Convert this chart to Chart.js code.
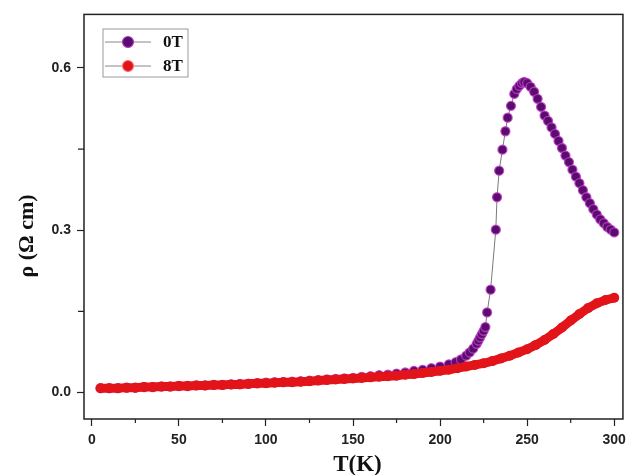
<!DOCTYPE html>
<html>
<head>
<meta charset="utf-8">
<script src="https://cdn.jsdelivr.net/npm/chart.js@4.4.1/dist/chart.umd.min.js"></script>
<style>
  html, body { margin: 0; padding: 0; background: #fff; }
  canvas { display: block; }
</style>
</head>
<body>
<canvas id="myChart" width="632" height="475"></canvas>
<script>
// temperature (K) and resistivity (Ohm cm)
const temp0T = [5, 10, 15, 20, 25, 30, 35, 40, 45, 50, 55, 60, 65, 70, 75, 80, 85, 90, 95, 100,
  105, 110, 115, 120, 125, 130, 135, 140, 145, 150, 155, 160, 165, 170, 175, 180, 185, 190, 195, 200,
  205, 209, 212, 215, 217, 219, 221, 222, 223, 224, 225, 226, 227, 229, 232, 232.7, 233.9, 235.8, 237.5, 238.8,
  240.7, 242.6, 244, 245.5, 247, 248.3, 250, 252, 254, 256, 258, 260, 262, 264, 266, 268,
  270, 272, 274, 276, 278, 280, 282, 284, 286, 288, 290, 292, 294, 296, 298, 300];
const rho0T = [0.008, 0.008, 0.008, 0.009, 0.009, 0.010, 0.010, 0.011, 0.011, 0.012, 0.012, 0.013, 0.013, 0.014, 0.014, 0.015, 0.016, 0.016, 0.017, 0.018,
  0.019, 0.019, 0.020, 0.021, 0.022, 0.023, 0.024, 0.025, 0.026, 0.027, 0.029, 0.030, 0.032, 0.033, 0.035, 0.037, 0.040, 0.042, 0.045, 0.048,
  0.052, 0.056, 0.061, 0.068, 0.074, 0.081, 0.090, 0.096, 0.102, 0.108, 0.114, 0.121, 0.148, 0.190, 0.301, 0.361, 0.410, 0.449, 0.483, 0.508,
  0.530, 0.552, 0.561, 0.567, 0.572, 0.574, 0.572, 0.565, 0.556, 0.543, 0.528, 0.512, 0.502, 0.490, 0.478, 0.465,
  0.452, 0.438, 0.426, 0.412, 0.399, 0.387, 0.374, 0.361, 0.350, 0.339, 0.329, 0.320, 0.313, 0.306, 0.301, 0.296];

const temp8T = [5, 10, 15, 20, 25, 30, 35, 40, 45, 50, 55, 60, 65, 70, 75, 80, 85, 90, 95, 100,
  105, 110, 115, 120, 125, 130, 135, 140, 145, 150, 155, 160, 165, 170, 175, 180, 185, 190, 195, 200,
  205, 210, 215, 220, 225, 230, 235, 240, 245, 250, 255, 260, 265, 270, 275, 280, 285, 290, 295, 300];
const rho8T = [0.008, 0.008, 0.008, 0.009, 0.009, 0.010, 0.010, 0.011, 0.011, 0.012, 0.012, 0.013, 0.013, 0.014, 0.014, 0.015, 0.015, 0.016, 0.017, 0.017,
  0.018, 0.019, 0.019, 0.020, 0.021, 0.022, 0.023, 0.024, 0.025, 0.026, 0.027, 0.028, 0.029, 0.030, 0.031, 0.033, 0.034, 0.036, 0.038, 0.040,
  0.042, 0.045, 0.048, 0.051, 0.054, 0.058, 0.063, 0.068, 0.074, 0.080, 0.088, 0.097, 0.108, 0.120, 0.133, 0.145, 0.156, 0.165, 0.171, 0.175];

const seriesNames = ['0T', '8T'];
const xTicks = [0, 50, 100, 150, 200, 250, 300];
const xMinor = [25, 75, 125, 175, 225, 275];
const yTicks = [0.0, 0.3, 0.6];
const yMinor = [0.15, 0.45];

const purple = '#5a0d6c';
const red = '#e2141a';
const tickFont = { family: '"Liberation Sans", Arial, sans-serif', size: 14, weight: 'bold' };

const toPoints = (xs, ys) => xs.map((x, i) => ({ x: x, y: ys[i] }));

// frame, minor ticks, axis titles and the boxed legend
const decorations = {
  id: 'decorations',
  afterDraw(chart) {
    const { ctx, chartArea: a, scales: { x, y } } = chart;
    ctx.save();
    ctx.strokeStyle = '#222';
    ctx.lineWidth = 1.5;
    ctx.strokeRect(a.left, a.top, a.right - a.left, a.bottom - a.top);

    ctx.lineWidth = 1.2;
    ctx.beginPath();
    xMinor.forEach(v => {
      const px = x.getPixelForValue(v);
      ctx.moveTo(px, a.bottom);
      ctx.lineTo(px, a.bottom + 4);
    });
    yMinor.forEach(v => {
      const py = y.getPixelForValue(v);
      ctx.moveTo(a.left - 6, py);
      ctx.lineTo(a.left, py);
    });
    ctx.stroke();

    ctx.fillStyle = '#111';
    ctx.textAlign = 'center';
    ctx.textBaseline = 'middle';
    ctx.font = 'bold 23px "Liberation Serif", "Times New Roman", serif';
    ctx.fillText('T(K)', (a.left + a.right) / 2 + 4, 465);

    ctx.save();
    ctx.translate(27, 236);
    ctx.rotate(-Math.PI / 2);
    ctx.font = 'bold 22px "Liberation Serif", "Times New Roman", serif';
    ctx.fillText('\u03C1 (\u03A9 cm)', 0, 0);
    ctx.restore();

    // legend
    ctx.strokeStyle = '#9a9a9a';
    ctx.lineWidth = 1;
    ctx.strokeRect(103, 29, 85, 48);
    const rows = [[seriesNames[0], purple, '#b03cc0', 42], [seriesNames[1], red, '#ff7070', 66]];
    rows.forEach(([name, fill, edge, ly]) => {
      ctx.strokeStyle = '#888';
      ctx.lineWidth = 1;
      ctx.beginPath();
      ctx.moveTo(105, ly);
      ctx.lineTo(151, ly);
      ctx.stroke();
      ctx.beginPath();
      ctx.arc(128, ly, 5.5, 0, Math.PI * 2);
      ctx.fillStyle = fill;
      ctx.fill();
      ctx.strokeStyle = edge;
      ctx.lineWidth = 1.2;
      ctx.stroke();
      ctx.fillStyle = '#111';
      ctx.textAlign = 'left';
      ctx.font = 'bold 17px "Liberation Serif", "Times New Roman", serif';
      ctx.fillText(name, 163, ly + 1);
    });
    ctx.restore();
  }
};

const ctx = document.getElementById('myChart').getContext('2d');
const myChart = new Chart(ctx, {
  type: 'scatter',
  data: {
    datasets: [{
      label: seriesNames[0],
      data: toPoints(temp0T, rho0T),
      showLine: true,
      borderColor: '#7a7a7a',
      borderWidth: 1,
      pointRadius: 4.5,
      pointBackgroundColor: purple,
      pointBorderColor: 'rgba(190, 60, 200, 0.85)',
      pointBorderWidth: 1.3,
      order: 2
    }, {
      label: seriesNames[1],
      data: toPoints(temp8T, rho8T),
      showLine: true,
      borderColor: red,
      borderWidth: 9,
      borderCapStyle: 'round',
      pointRadius: 5,
      pointBackgroundColor: red,
      pointBorderColor: red,
      pointBorderWidth: 0,
      order: 1
    }]
  },
  options: {
    responsive: false,
    animation: false,
    devicePixelRatio: 1,
    layout: { padding: { top: 14, right: 5, left: 0, bottom: 0 } },
    plugins: { legend: { display: false }, tooltip: { enabled: false } },
    scales: {
      x: {
        type: 'linear',
        min: -4.5,
        max: 305,
        afterBuildTicks: s => { s.ticks = xTicks.map(v => ({ value: v })); },
        afterFit: s => { s.height = 56; },
        border: { display: false },
        grid: { drawOnChartArea: false, tickLength: 7, tickWidth: 1.2, tickColor: '#222' },
        ticks: { color: '#222', font: tickFont, padding: 6, maxRotation: 0, callback: v => String(v) }
      },
      y: {
        type: 'linear',
        min: -0.049,
        max: 0.699,
        afterBuildTicks: s => { s.ticks = yTicks.map(v => ({ value: v })); },
        afterFit: s => { s.width = 84; },
        border: { display: false },
        grid: { drawOnChartArea: false, tickLength: 7, tickWidth: 1.2, tickColor: '#222' },
        ticks: { color: '#222', font: tickFont, padding: 6, callback: v => v.toFixed(1) }
      }
    }
  },
  plugins: [decorations]
});
</script>
</body>
</html>
